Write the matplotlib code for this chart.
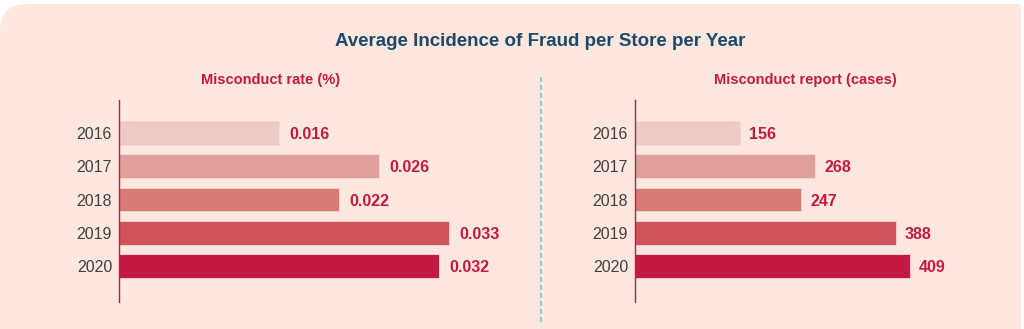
import matplotlib
matplotlib.use("agg")
import matplotlib.pyplot as plt
from matplotlib.patches import PathPatch
from matplotlib.path import Path
from matplotlib.lines import Line2D

years = ["2016", "2017", "2018", "2019", "2020"]
rate = [0.016, 0.026, 0.022, 0.033, 0.032]
rate_labels = ["0.016", "0.026", "0.022", "0.033", "0.032"]
cases = [156, 268, 247, 388, 409]
case_labels = ["156", "268", "247", "388", "409"]

title = "Average Incidence of Fraud per Store per Year"
left_title = "Misconduct rate (%)"
right_title = "Misconduct report (cases)"

bar_colors = ["#eecac6", "#e19f9b", "#d87a76", "#cf545c", "#c41a42"]
bg = "#fde7de"
red = "#c41a42"
navy = "#1d4a6b"
grey = "#404040"

plt.rcParams["font.family"] = ["Liberation Sans", "DejaVu Sans"]

W, H = 10.24, 3.29
fig = plt.figure(figsize=(W, H), dpi=100, facecolor="white")

# peach panel, only the top-left corner rounded
top = H - 0.04
right = 10.21
r = 0.27
verts = [(0, 0), (right, 0), (right, top), (r, top), (0, top), (0, top - r), (0, 0)]
codes = [Path.MOVETO, Path.LINETO, Path.LINETO, Path.LINETO,
         Path.CURVE3, Path.CURVE3, Path.CLOSEPOLY]
fig.add_artist(PathPatch(Path(verts, codes), transform=fig.dpi_scale_trans,
                         facecolor=bg, edgecolor="none", zorder=-10))

fig.text(540 / 1024, 1 - 42 / 329, title, ha="center", va="center",
         fontsize=13.5, fontweight="bold", color=navy)


def px(x0, x1, y0, y1):
    return [x0 / 1024, 1 - y1 / 329, (x1 - x0) / 1024, (y1 - y0) / 329]


def panel(rect, values, labels, xmax):
    ax = fig.add_axes(rect)
    ax.set_facecolor("none")
    ax.barh(range(len(years)), values, height=0.72, color=bar_colors,
            edgecolor="#f7d9d2", linewidth=0.6)
    ax.set_ylim(5.08, -0.99)
    ax.set_xlim(0, xmax)
    for s in ["top", "right", "bottom"]:
        ax.spines[s].set_visible(False)
    ax.spines["left"].set_color(red)
    ax.spines["left"].set_linewidth(1.0)
    ax.set_xticks([])
    ax.set_yticks(range(len(years)))
    ax.set_yticklabels(years, fontsize=11.5, color=grey)
    ax.tick_params(axis="y", length=0, pad=5)
    off = xmax * 0.025
    for i, (v, t) in enumerate(zip(values, labels)):
        ax.text(v + off, i, t, ha="left", va="center_baseline", fontsize=11.5,
                fontweight="bold", color=red)
    return ax


panel(px(119, 519, 100, 302), rate, rate_labels, 0.040)
panel(px(635, 1000, 100, 302), cases, case_labels, 543)

fig.text(271 / 1024, 1 - 80 / 329, left_title, ha="center", va="center",
         fontsize=10.5, fontweight="bold", color=red)
fig.text(805 / 1024, 1 - 80 / 329, right_title, ha="center", va="center",
         fontsize=10.5, fontweight="bold", color=red)

fig.add_artist(Line2D([541 / 1024, 541 / 1024], [1 - 77 / 329, 1 - 322 / 329],
                      transform=fig.transFigure, color="#6fcfcc",
                      linewidth=1.2, linestyle=(0, (3, 1.8))))

fig.savefig("out.png", dpi=100, facecolor="white")
